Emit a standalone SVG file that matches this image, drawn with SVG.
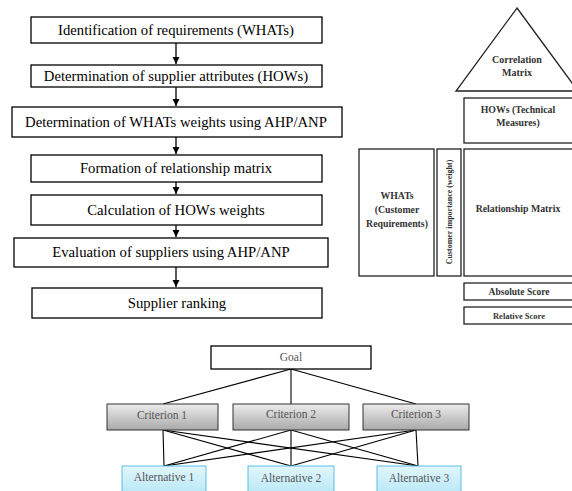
<svg xmlns="http://www.w3.org/2000/svg" width="572" height="491" viewBox="0 0 572 491">
<style>
.fb{fill:#fff;stroke:#000;stroke-width:1.3}
.ft{font-family:"Liberation Serif","Times New Roman",serif;font-size:14.7px;fill:#000;text-anchor:middle}
.qb{fill:#fff;stroke:#222;stroke-width:1.3}
.qt{font-family:"Liberation Serif","Times New Roman",serif;font-size:8.5px;font-weight:bold;fill:#333;text-anchor:middle}
.ln{stroke:#000;stroke-width:1.1;fill:none}
.ar{stroke:#000;stroke-width:1.3;fill:none}
.at{font-family:"Liberation Serif","Times New Roman",serif;font-size:11.5px;fill:#555;text-anchor:middle}
.cr{fill:url(#gg);stroke:#333;stroke-width:1}
.al{fill:url(#gb);stroke:#5bbfe0;stroke-width:1}
</style>
<defs>
<marker id="ah" viewBox="0 0 10 10" refX="10" refY="5" markerWidth="7" markerHeight="8" markerUnits="userSpaceOnUse" orient="auto">
<path d="M0,0 L10,5 L0,10 z" fill="#000"/>
</marker>
<linearGradient id="gg" x1="0" y1="0" x2="0" y2="1">
<stop offset="0" stop-color="#ececec"/>
<stop offset="1" stop-color="#a9a9a9"/>
</linearGradient>
<linearGradient id="gb" x1="0" y1="0" x2="0" y2="1">
<stop offset="0" stop-color="#e2f6fc"/>
<stop offset="1" stop-color="#b0e4f5"/>
</linearGradient>
</defs>
<rect width="572" height="491" fill="#fff"/>

<g id="connectors">
<line class="ar" x1="176" y1="43" x2="176" y2="64" marker-end="url(#ah)"/>
<line class="ar" x1="176" y1="87" x2="176" y2="106" marker-end="url(#ah)"/>
<line class="ar" x1="176" y1="137" x2="176" y2="154" marker-end="url(#ah)"/>
<line class="ar" x1="176" y1="182" x2="176" y2="194" marker-end="url(#ah)"/>
<line class="ar" x1="176" y1="225" x2="176" y2="237" marker-end="url(#ah)"/>
<line class="ar" x1="176" y1="267" x2="176" y2="287" marker-end="url(#ah)"/>
<g class="ln">
<line x1="291" y1="369" x2="163" y2="404"/>
<line x1="291" y1="369" x2="291" y2="404"/>
<line x1="291" y1="369" x2="416" y2="404"/>
<line x1="163" y1="430" x2="164" y2="466"/>
<line x1="163" y1="430" x2="291" y2="466"/>
<line x1="163" y1="430" x2="418" y2="466"/>
<line x1="291" y1="430" x2="164" y2="466"/>
<line x1="291" y1="430" x2="291" y2="466"/>
<line x1="291" y1="430" x2="418" y2="466"/>
<line x1="416" y1="430" x2="164" y2="466"/>
<line x1="416" y1="430" x2="291" y2="466"/>
<line x1="416" y1="430" x2="418" y2="466"/>
</g>
</g>

<g id="step1"><rect class="fb" x="31" y="17" width="291" height="26"/><text class="ft" x="176" y="35">Identification of requirements (WHATs)</text></g>
<g id="step2"><rect class="fb" x="31" y="65" width="291" height="22"/><text class="ft" x="176" y="81">Determination of supplier attributes (HOWs)</text></g>
<g id="step3"><rect class="fb" x="12" y="107" width="330" height="30"/><text class="ft" x="176" y="127">Determination of WHATs weights using AHP/ANP</text></g>
<g id="step4"><rect class="fb" x="31" y="155" width="291" height="27"/><text class="ft" x="176" y="173">Formation of relationship matrix</text></g>
<g id="step5"><rect class="fb" x="31" y="195" width="291" height="30"/><text class="ft" x="176" y="215">Calculation of HOWs weights</text></g>
<g id="step6"><rect class="fb" x="14" y="238" width="314" height="29"/><text class="ft" x="171" y="257">Evaluation of suppliers using AHP/ANP</text></g>
<g id="step7"><rect class="fb" x="32" y="288" width="290" height="30"/><text class="ft" x="177" y="308">Supplier ranking</text></g>

<g id="correlation"><polygon class="qb" points="517,8 578,91 456,91"/><text class="qt" style="font-size:10px" x="517" y="63">Correlation</text><text class="qt" style="font-size:10px" x="517" y="76">Matrix</text></g>
<g id="hows"><rect class="qb" x="464" y="98" width="112" height="45"/><text class="qt" style="font-size:9.8px" x="518" y="113">HOWs (Technical</text><text class="qt" style="font-size:9.8px" x="518" y="126">Measures)</text></g>
<g id="whats"><rect class="qb" x="359" y="149" width="75" height="127"/><text class="qt" style="font-size:9.8px" x="397" y="199">WHATs</text><text class="qt" style="font-size:9.8px" x="397" y="213">(Customer</text><text class="qt" style="font-size:9.8px" x="397" y="227">Requirements)</text></g>
<g id="importance"><rect class="qb" x="437" y="149" width="24" height="127"/><text class="qt" style="font-size:8px" transform="translate(452,212) rotate(-90)">Customer importance (weight)</text></g>
<g id="relationship"><rect class="qb" x="464" y="149" width="112" height="127"/><text class="qt" style="font-size:9.8px" x="518" y="212">Relationship Matrix</text></g>
<g id="absolute"><rect class="qb" x="464" y="283" width="112" height="17"/><text class="qt" style="font-size:9.5px" x="519" y="295">Absolute Score</text></g>
<g id="relative"><rect class="qb" x="464" y="307" width="112" height="17"/><text class="qt" x="519" y="319">Relative Score</text></g>

<g id="goal"><rect x="211" y="346" width="160" height="23" fill="#fff" stroke="#000" stroke-width="1.3"/><text class="at" x="291" y="361">Goal</text></g>
<g id="criterion1"><rect class="cr" x="107" y="404" width="111" height="26"/><text class="at" x="162" y="419">Criterion 1</text></g>
<g id="criterion2"><rect class="cr" x="233" y="404" width="116" height="26"/><text class="at" x="291" y="418">Criterion 2</text></g>
<g id="criterion3"><rect class="cr" x="363" y="404" width="106" height="26"/><text class="at" x="416" y="418">Criterion 3</text></g>
<g id="alternative1"><rect class="al" x="122" y="466" width="84" height="34"/><text class="at" x="164" y="481">Alternative 1</text></g>
<g id="alternative2"><rect class="al" x="248" y="466" width="86" height="34"/><text class="at" x="291" y="482">Alternative 2</text></g>
<g id="alternative3"><rect class="al" x="377" y="466" width="84" height="34"/><text class="at" x="419" y="482">Alternative 3</text></g>
</svg>
